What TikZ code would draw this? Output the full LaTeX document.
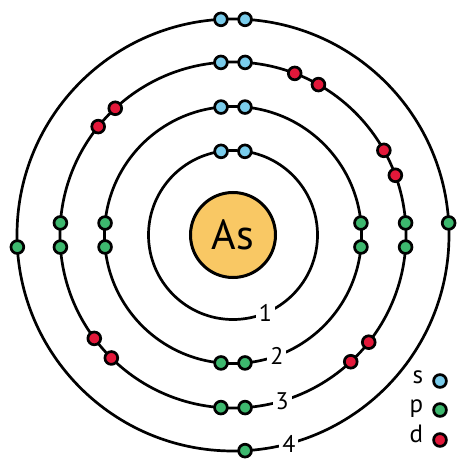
\documentclass[tikz,border=0pt]{standalone}
\usepackage{fontspec}
\setmainfont{PT Sans}
\usepackage{xcolor}
\usetikzlibrary{positioning}
\definecolor{sorb}{HTML}{7ACCEB}
\definecolor{porb}{HTML}{3DB86E}
\definecolor{dorb}{HTML}{E3183A}
\definecolor{core}{HTML}{F9C864}
\tikzset{
  orbit/.style={draw=black, line width=2.7pt},
  elec/.style={circle, draw=black, line width=2.7pt, minimum size=12.8pt, inner sep=0pt},
  es/.style={elec, fill=sorb},
  ep/.style={elec, fill=porb},
  ed/.style={elec, fill=dorb},
  shellnum/.style={fill=white, inner sep=3pt, font=\fontsize{24}{24}\selectfont},
  keylabel/.style={inner sep=0pt, font=\fontsize{25}{25}\selectfont}
}
\begin{document}
\begin{tikzpicture}[x=1pt,y=1pt]
        \useasboundingbox (-233,-236) rectangle (233,235);
        % Orbits
        \draw[orbit] (0,0) circle[radius=84.5pt];
        \draw[orbit] (0,0) circle[radius=128.5pt];
        \draw[orbit] (0,0) circle[radius=173pt];
        \draw[orbit] (0,0) circle[radius=216pt];
        % Shell numbers
        \node[shellnum] (num1) at (-67.5:84.5pt) {1};
        \node[shellnum] (num2) at (-70:128.5pt) {2};
        \node[shellnum] (num3) at (-73.5:173pt) {3};
        \node[shellnum] (num4) at (-75:216pt) {4};
        % Nucleus
        \node[circle, draw=black, line width=3pt, fill=core, minimum size=85pt,
              font=\fontsize{42}{42}\selectfont] (nucleus) at (0,0) {As};
        % Shell 1
        \node[es] (a1) at (81.9:84.5pt) {};
        \node[es] (a2) at (98.1:84.5pt) {};
        % Shell 2
        \node[es] (b1) at (84.65:128.5pt) {};
        \node[es] (b2) at (95.35:128.5pt) {};
        \node[ep] (b3) at (174.65:128.5pt) {};
        \node[ep] (b4) at (185.35:128.5pt) {};
        \node[ep] (b5) at (-5.35:128.5pt) {};
        \node[ep] (b6) at (5.35:128.5pt) {};
        \node[ep] (b7) at (264.65:128.5pt) {};
        \node[ep] (b8) at (275.35:128.5pt) {};
        % Shell 3
        \node[es] (c1) at (86:173pt) {};
        \node[es] (c2) at (94:173pt) {};
        \node[ep] (c3) at (176:173pt) {};
        \node[ep] (c4) at (184:173pt) {};
        \node[ep] (c5) at (-4:173pt) {};
        \node[ep] (c6) at (4:173pt) {};
        \node[ep] (c7) at (266:173pt) {};
        \node[ep] (c8) at (274:173pt) {};
        \node[ed] (c9) at (69.1:173pt) {};
        \node[ed] (c10) at (60.4:173pt) {};
        \node[ed] (c11) at (29.3:173pt) {};
        \node[ed] (c12) at (20.2:173pt) {};
        \node[ed] (c13) at (-38.3:173pt) {};
        \node[ed] (c14) at (-47.1:173pt) {};
        \node[ed] (c15) at (216.7:173pt) {};
        \node[ed] (c16) at (225.3:173pt) {};
        \node[ed] (c17) at (132.9:173pt) {};
        \node[ed] (c18) at (141.2:173pt) {};
        % Shell 4
        \node[es] (d1) at (86.8:216pt) {};
        \node[es] (d2) at (93.2:216pt) {};
        \node[ep] (d3) at (183.2:216pt) {};
        \node[ep] (d4) at (3.2:216pt) {};
        \node[ep] (d5) at (273.2:216pt) {};
        % Legend
        \node[es] (keys) at (207,-146) {};
        \node[ep] (keyp) at (207,-175) {};
        \node[ed] (keyd) at (207,-205) {};
        \node[keylabel, left=9pt of keys.west, anchor=mid east] (lbls) {s};
        \node[keylabel, left=9pt of keyp.west, anchor=mid east] (lblp) {p};
        \node[keylabel, left=9pt of keyd.west, anchor=mid east] (lbld) {d};
    \end{tikzpicture}
\end{document}
